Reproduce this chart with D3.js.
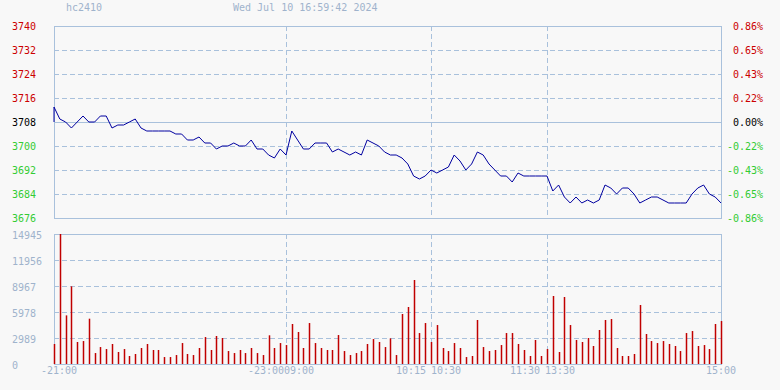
<!DOCTYPE html>
<html>
<head>
<meta charset="utf-8">
<script src="https://cdn.jsdelivr.net/npm/d3@7"></script>
<style>
  html, body { margin: 0; padding: 0; background: #f8f8f8; }
  svg { display: block; font-family: "DejaVu Sans Mono", monospace; font-size: 10px; }
</style>
</head>
<body>
<div id="chart"></div>
<script>
////////////////////////////////////////////////////////////////////
////////////////////////////  Data  ////////////////////////////////
const symbol = "hc2410";
const stamp = "Wed Jul 10 16:59:42 2024";
const prevClose = 3708;

// one point every 3 minutes, 21:00 -> 15:00 (116 points)
const prices = [
  3713, 3709, 3708, 3706, 3708, 3710, 3708, 3708, 3710, 3710,
  3706, 3707, 3707, 3708, 3709, 3706, 3705, 3705, 3705, 3705,
  3705, 3704, 3704, 3702, 3702, 3703, 3701, 3701, 3699, 3700,
  3700, 3701, 3700, 3700, 3702, 3699, 3699, 3697, 3696, 3699,
  3697, 3705, 3702, 3699, 3699, 3701, 3701, 3701, 3698, 3699,
  3698, 3697, 3698, 3697, 3702, 3701, 3700, 3698, 3697, 3697,
  3696, 3694, 3690, 3689, 3690, 3692, 3691, 3692, 3693, 3697,
  3695, 3692, 3694, 3698, 3697, 3694, 3692, 3690, 3690, 3688,
  3691, 3690, 3690, 3690, 3690, 3690, 3685, 3687, 3683, 3681,
  3683, 3681, 3682, 3681, 3682, 3687, 3686, 3684, 3686, 3686,
  3684, 3681, 3682, 3683, 3683, 3682, 3681, 3681, 3681, 3681,
  3684, 3686, 3687, 3684, 3683, 3681
];

const volumes = [
  2300, 14945, 5590, 8930, 2530, 2640, 5210, 1260, 1950, 1720,
  2300, 1380, 1720, 920, 1150, 1840, 2300, 1610, 1610, 800,
  800, 1030, 2410, 1150, 1030, 1840, 3100, 1610, 3220, 2990,
  1490, 1260, 1610, 1260, 1840, 1260, 1030, 3300, 1840, 2410,
  2180, 4600, 3680, 1840, 4710, 2410, 1840, 1610, 1610, 3330,
  1490, 1030, 1260, 1490, 2300, 2870, 2530, 1950, 2950, 1030,
  5750, 6550, 9660, 3560, 4710, 2530, 4480, 1840, 1490, 2410,
  1840, 800, 920, 5060, 1950, 1490, 1610, 2180, 3560, 3560,
  2300, 1610, 920, 2760, 920, 1720, 7820, 1380, 7700, 4480,
  2760, 2530, 2990, 2070, 3910, 5060, 5170, 1840, 920, 920,
  1150, 6780, 3450, 2640, 2410, 2640, 2300, 2070, 1490, 3560,
  3790, 2070, 2180, 1720, 4600, 4940
];

const priceTicks = [3740, 3732, 3724, 3716, 3708, 3700, 3692, 3684, 3676];
const pctLabels = ["0.86%", "0.65%", "0.43%", "0.22%", "0.00%", "-0.22%", "-0.43%", "-0.65%", "-0.86%"];
const volTicks = [0, 2989, 5978, 8967, 11956, 14945];

// session breaks (index into the 3-minute points)
const breakIdx = [40, 65, 85];
const timeLabels = [
  { text: "-21:00", idx: 0, anchor: "start", dx: -13 },
  { text: "-23:00", idx: 40, anchor: "end", dx: -2 },
  { text: "09:00", idx: 40, anchor: "start", dx: -2 },
  { text: "10:15", idx: 65, anchor: "end", dx: -5 },
  { text: "10:30", idx: 65, anchor: "start", dx: 0 },
  { text: "11:30", idx: 85, anchor: "end", dx: -7 },
  { text: "13:30", idx: 85, anchor: "start", dx: -2 },
  { text: "15:00", idx: 115, anchor: "middle", dx: 0 }
];

////////////////////////////////////////////////////////////////////
////////////////////////////  Init  ////////////////////////////////
const width = 780, height = 390;
const plot = { left: 54, right: 721 };
const pricePane = { top: 26, bottom: 218 };
const volPane = { top: 234, bottom: 364 };

const gridColor = "#a9c1dc";
const textColor = "#9fb3cc";
const up = "#cc0000", down = "#33cc33";

const svg = d3.select("#chart").append("svg")
  .attr("width", width)
  .attr("height", height);

// scales
const xScale = d3.scaleLinear().domain([0, prices.length - 1]).range([plot.left, plot.right]);
const yPrice = d3.scaleLinear()
  .domain([priceTicks[priceTicks.length - 1], priceTicks[0]])
  .range([pricePane.bottom, pricePane.top]);
const yVol = d3.scaleLinear()
  .domain([0, d3.max(volTicks)])
  .range([volPane.bottom, volPane.top]);

// header
svg.append("text").attr("x", 66).attr("y", 11).attr("fill", textColor).text(symbol);
svg.append("text").attr("x", 233).attr("y", 11).attr("fill", textColor).text(stamp);

////////////////////////////////////////////////////////////////////
////////////////////////////  Price pane  //////////////////////////
const gp = svg.append("g");

gp.selectAll("line.hgrid")
  .data(priceTicks.slice(1, -1))
  .join("line")
  .attr("x1", plot.left).attr("x2", plot.right)
  .attr("y1", (d) => Math.round(yPrice(d)) + 0.5)
  .attr("y2", (d) => Math.round(yPrice(d)) + 0.5)
  .attr("stroke", gridColor)
  .attr("stroke-dasharray", (d) => (d === prevClose ? null : "5,3"));

gp.selectAll("line.vgrid")
  .data(breakIdx)
  .join("line")
  .attr("x1", (d) => Math.round(xScale(d)) + 0.5)
  .attr("x2", (d) => Math.round(xScale(d)) + 0.5)
  .attr("y1", pricePane.top).attr("y2", pricePane.bottom)
  .attr("stroke", gridColor)
  .attr("stroke-dasharray", "5,3");

gp.append("rect")
  .attr("x", plot.left + 0.5).attr("y", pricePane.top + 0.5)
  .attr("width", plot.right - plot.left).attr("height", pricePane.bottom - pricePane.top)
  .attr("fill", "none").attr("stroke", gridColor);

const tickColor = (d) => (d > prevClose ? up : d < prevClose ? down : "#000");

gp.selectAll("text.left")
  .data(priceTicks)
  .join("text")
  .attr("x", 12)
  .attr("y", (d) => yPrice(d))
  .attr("dy", "0.35em")
  .attr("fill", tickColor)
  .text((d) => d);

gp.selectAll("text.right")
  .data(priceTicks)
  .join("text")
  .attr("x", 763)
  .attr("y", (d) => yPrice(d))
  .attr("dy", "0.35em")
  .attr("text-anchor", "end")
  .attr("fill", tickColor)
  .text((d, i) => pctLabels[i]);

// line starts from previous close
const lineData = [[0, prevClose]].concat(prices.map((p, i) => [i, p]));
const line = d3.line()
  .x((d) => xScale(d[0]))
  .y((d) => yPrice(d[1]));

gp.append("path")
  .datum(lineData)
  .attr("fill", "none")
  .attr("stroke", "#0000a0")
  .attr("stroke-width", 1)
  .attr("d", line);

////////////////////////////////////////////////////////////////////
////////////////////////////  Volume pane  /////////////////////////
const gv = svg.append("g");

gv.selectAll("line.hgrid")
  .data(volTicks.slice(1, -1))
  .join("line")
  .attr("x1", plot.left).attr("x2", plot.right)
  .attr("y1", (d) => Math.round(yVol(d)) + 0.5)
  .attr("y2", (d) => Math.round(yVol(d)) + 0.5)
  .attr("stroke", gridColor)
  .attr("stroke-dasharray", "5,3");

gv.selectAll("line.vgrid")
  .data(breakIdx)
  .join("line")
  .attr("x1", (d) => Math.round(xScale(d)) + 0.5)
  .attr("x2", (d) => Math.round(xScale(d)) + 0.5)
  .attr("y1", volPane.top).attr("y2", volPane.bottom)
  .attr("stroke", gridColor)
  .attr("stroke-dasharray", "5,3");

gv.append("rect")
  .attr("x", plot.left + 0.5).attr("y", volPane.top + 0.5)
  .attr("width", plot.right - plot.left).attr("height", volPane.bottom - volPane.top)
  .attr("fill", "none").attr("stroke", gridColor);

gv.selectAll("text.vol")
  .data(volTicks)
  .join("text")
  .attr("x", 12)
  .attr("y", (d) => yVol(d) + 1)
  .attr("dy", "0.35em")
  .attr("fill", textColor)
  .text((d) => d);

gv.selectAll("line.bar")
  .data(volumes)
  .join("line")
  .attr("x1", (d, i) => Math.round(xScale(i)) + 0.5)
  .attr("x2", (d, i) => Math.round(xScale(i)) + 0.5)
  .attr("y1", yVol(0))
  .attr("y2", (d) => yVol(d))
  .attr("stroke", "#c00000")
  .attr("stroke-width", 1.5);

// time labels
svg.selectAll("text.time")
  .data(timeLabels)
  .join("text")
  .attr("x", (d) => xScale(d.idx) + d.dx)
  .attr("y", 374)
  .attr("text-anchor", (d) => d.anchor)
  .attr("fill", textColor)
  .text((d) => d.text);
</script>
</body>
</html>
